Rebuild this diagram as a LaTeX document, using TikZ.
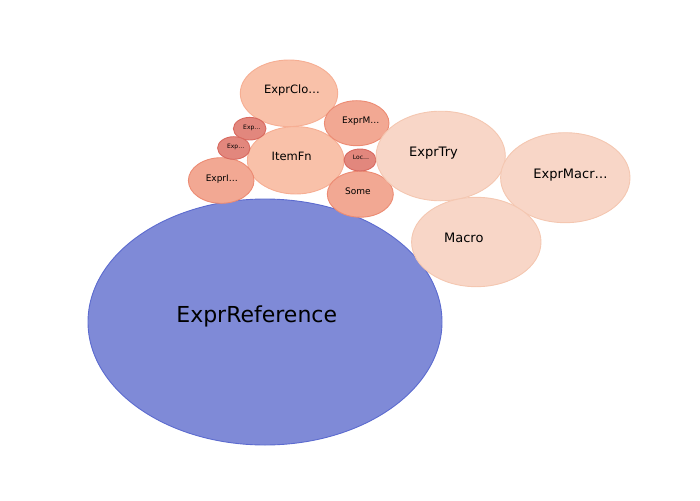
\documentclass[tikz,border=0pt]{standalone}
\usepackage{fontspec}
\setmainfont{DejaVu Sans}
\usetikzlibrary{shapes.geometric}
\definecolor{blueF}{HTML}{7F8AD7}
\definecolor{blueE}{HTML}{5C6BCF}
\definecolor{lightF}{HTML}{F9C1A9}
\definecolor{lightE}{HTML}{F6AE93}
\definecolor{medF}{HTML}{F2A893}
\definecolor{medE}{HTML}{EC8B73}
\definecolor{smallF}{HTML}{E2877D}
\definecolor{smallE}{HTML}{D8695F}
\definecolor{paleF}{HTML}{F8D6C7}
\definecolor{paleE}{HTML}{F4C7B1}
\tikzset{
  bub/.style={ellipse, inner sep=0pt, line width=0.9pt},
  lab/.style={anchor=base, inner sep=0pt, text=black},
}
\newcommand{\bubble}[7]{% name, cx, cy, rx, ry, fill, edge
  \node[bub, fill=#6, draw=#7, minimum width=#4*2pt, minimum height=#5*2pt] (#1) at (#2,#3) {};}
\begin{document}
\begin{tikzpicture}[x=1pt,y=-1pt]
\useasboundingbox (0,0) rectangle (700,500);
\bubble{ref}{265}{322}{177}{123}{blueF}{blueE}
\bubble{clo}{289}{93.3}{48.7}{33.3}{lightF}{lightE}
\bubble{item}{295.7}{160.3}{48.3}{33.7}{lightF}{lightE}
\bubble{exprm}{356.7}{123.2}{32.3}{22.5}{medF}{medE}
\bubble{some}{360.3}{194.2}{33}{23}{medF}{medE}
\bubble{expri}{221.2}{180.5}{32.8}{22.8}{medF}{medE}
\bubble{expa}{249.7}{128.7}{16.3}{11.3}{smallF}{smallE}
\bubble{expb}{233.8}{148}{16.2}{11.3}{smallF}{smallE}
\bubble{loc}{360}{160}{16}{11}{smallF}{smallE}
\bubble{try}{440.7}{156}{64.6}{44.8}{paleF}{paleE}
\bubble{macr}{565.3}{177.7}{64.7}{45}{paleF}{paleE}
\bubble{macro}{476.3}{242}{64.7}{44.7}{paleF}{paleE}
\node[lab, font=\fontsize{22}{24}\selectfont] (tref) at (256.7,322.7) {ExprReference};
\node[lab, font=\fontsize{11.5}{13}\selectfont] (tclo) at (292,93.3) {ExprClo…};
\node[lab, font=\fontsize{11.5}{13}\selectfont] (titem) at (291.7,160.7) {ItemFn};
\node[lab, font=\fontsize{9}{10}\selectfont] (texprm) at (360.8,123.3) {ExprM…};
\node[lab, font=\fontsize{9}{10}\selectfont] (tsome) at (358,194) {Some};
\node[lab, font=\fontsize{9}{10}\selectfont] (texpri) at (221.8,181) {ExprI…};
\node[lab, font=\fontsize{6}{7}\selectfont] (texpa) at (251.8,129) {Exp…};
\node[lab, font=\fontsize{6}{7}\selectfont] (texpb) at (235.7,148) {Exp…};
\node[lab, font=\fontsize{6}{7}\selectfont] (tloc) at (361,159.3) {Loc…};
\node[lab, font=\fontsize{13}{15}\selectfont] (ttry) at (433.5,156.7) {ExprTry};
\node[lab, font=\fontsize{13}{15}\selectfont] (tmacr) at (570.5,178.3) {ExprMacr…};
\node[lab, font=\fontsize{13}{15}\selectfont] (tmacro) at (463.8,242.3) {Macro};
\end{tikzpicture}
\end{document}
